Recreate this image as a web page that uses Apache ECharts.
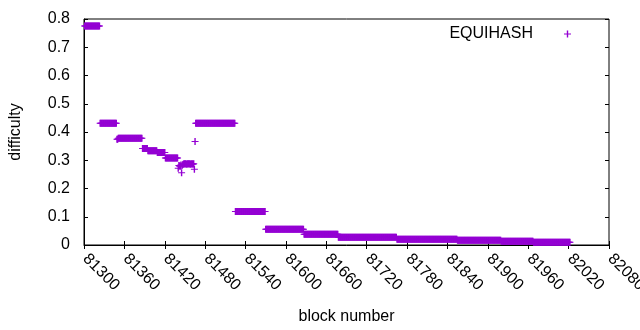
<!DOCTYPE html>
<html>
<head>
<meta charset="utf-8">
<script src="https://cdn.jsdelivr.net/npm/echarts@6/dist/echarts.min.js"></script>
<style>
  html, body { margin: 0; padding: 0; background: #fff; }
  #chart { width: 640px; height: 330px; }
</style>
</head>
<body>
<div id="chart"></div>
<script>
// difficulty is constant over runs of blocks
const runStart = [81301, 81324, 81349, 81351, 81387, 81395, 81409, 81421, 81466, 81525, 81570, 81627, 81678, 81765, 81855, 81920, 81968];
const runEnd   = [81323, 81348, 81350, 81386, 81394, 81408, 81420, 81439, 81524, 81569, 81626, 81677, 81764, 81854, 81919, 81967, 82022];
const runValue = [0.775, 0.431, 0.374, 0.378, 0.342, 0.334, 0.327, 0.308, 0.431, 0.119, 0.0556, 0.038, 0.027, 0.0205, 0.0166, 0.013, 0.0096];

// the noisy stretch around block 81450
const looseBlocks = [81440, 81441, 81442, 81443, 81444, 81445, 81446, 81447, 81448, 81449, 81450, 81451, 81452,
                     81453, 81454, 81455, 81456, 81457, 81458, 81459, 81460, 81461, 81462, 81463, 81464, 81465];
const looseValues = [0.272, 0.281, 0.280, 0.279, 0.283, 0.256, 0.282, 0.285, 0.287, 0.288, 0.287, 0.288, 0.287,
                     0.286, 0.288, 0.288, 0.287, 0.288, 0.286, 0.288, 0.287, 0.288, 0.286, 0.288, 0.268, 0.366];

const xTicks = ['81300', '81360', '81420', '81480', '81540', '81600', '81660', '81720', '81780', '81840', '81900', '81960', '82020', '82080'];
const yTicks = ['0', '0.1', '0.2', '0.3', '0.4', '0.5', '0.6', '0.7', '0.8'];

let points = [];
for (let i = 0; i < runStart.length; i++) {
  for (let b = runStart[i]; b <= runEnd[i]; b++) points.push([b, runValue[i]]);
}
for (let i = 0; i < looseBlocks.length; i++) points.push([looseBlocks[i], looseValues[i]]);

// gnuplot style "+" point, vertical stroke a bit wider so runs fill in solid
const plus = 'path://M0,3L7,3L7,4L0,4ZM2.8,0L4.2,0L4.2,7L2.8,7Z';
const font = 'Liberation Sans';
const purple = '#9400d3';

let chart = echarts.init(document.getElementById('chart'));
let option = {
  animation: false,
  textStyle: { fontFamily: font },
  grid: {
    left: 84, right: 31, top: 19, bottom: 85,
    outerBoundsMode: 'none',
    containLabel: false,
    show: true, borderColor: '#000', borderWidth: 1
  },
  legend: {
    data: ['EQUIHASH'],
    top: 21, right: 64,
    align: 'right',
    itemWidth: 7, itemHeight: 7,
    icon: plus,
    itemStyle: { opacity: 1 },
    textStyle: { fontFamily: font, fontSize: 16, color: '#000', padding: [0, 26, 0, 0] }
  },
  xAxis: [{
    type: 'value',
    min: 81300, max: 82080, interval: 60,
    name: 'block number',
    nameLocation: 'middle',
    nameGap: 64,
    nameTextStyle: { fontFamily: font, fontSize: 16, color: '#000' },
    axisLine: { lineStyle: { color: '#000' } },
    axisTick: { inside: true, length: 4, lineStyle: { color: '#000' } },
    axisLabel: {
      rotate: -45, margin: 10, color: '#000', fontFamily: font, fontSize: 16,
      padding: [0, 0, 0, 2],
      showMinLabel: true, showMaxLabel: true,
      formatter: (v) => xTicks[Math.round((v - 81300) / 60)]
    },
    splitLine: { show: false }
  }, {
    type: 'value', position: 'top',
    min: 81300, max: 82080, interval: 60,
    axisLine: { show: false },
    axisTick: { inside: true, length: 4, lineStyle: { color: '#000' } },
    axisLabel: { show: false },
    splitLine: { show: false }
  }],
  yAxis: [{
    type: 'value',
    min: 0, max: 0.8, interval: 0.1,
    name: 'difficulty',
    nameLocation: 'middle',
    nameGap: 60,
    nameTextStyle: { fontFamily: font, fontSize: 16, color: '#000' },
    axisLine: { show: true, lineStyle: { color: '#000' } },
    axisTick: { show: true, inside: true, length: 4, lineStyle: { color: '#000' } },
    axisLabel: {
      color: '#000', fontFamily: font, fontSize: 16, margin: 14,
      formatter: (v) => yTicks[Math.round(v * 10)]
    },
    splitLine: { show: false }
  }, {
    type: 'value', position: 'right',
    min: 0, max: 0.8, interval: 0.1,
    axisLine: { show: false },
    axisTick: { show: true, inside: true, length: 4, lineStyle: { color: '#000' } },
    axisLabel: { show: false },
    splitLine: { show: false }
  }],
  series: [{
    name: 'EQUIHASH',
    type: 'scatter',
    symbol: plus,
    symbolSize: 7,
    itemStyle: { color: purple, opacity: 1 },
    data: points
  }]
};
chart.setOption(option);
</script>
</body>
</html>
